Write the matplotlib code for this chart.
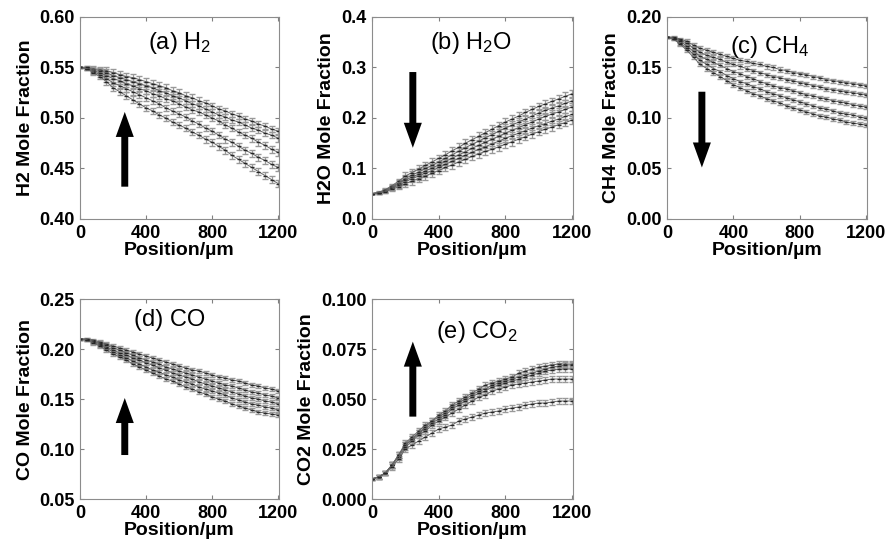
import matplotlib
matplotlib.use("Agg")
import matplotlib.pyplot as plt
from matplotlib.ticker import FormatStrFormatter

plt.rcParams['font.family'] = ['Liberation Sans', 'DejaVu Sans']
plt.rcParams['mathtext.fontset'] = 'custom'
plt.rcParams['mathtext.rm'] = 'Liberation Sans'
plt.rcParams['mathtext.it'] = 'Liberation Sans:italic'
plt.rcParams['mathtext.bf'] = 'Liberation Sans:bold'

# positions, um
pos = list(range(0, 1201, 40))

# (a) H2
h2 = [
    [0.550, 0.550, 0.549, 0.548, 0.547, 0.545, 0.543, 0.541, 0.540, 0.538, 0.536,
     0.534, 0.532, 0.530, 0.527, 0.525, 0.522, 0.520, 0.517, 0.515, 0.512,
     0.509, 0.507, 0.504, 0.502, 0.499, 0.497, 0.494, 0.492, 0.489, 0.487],
    [0.550, 0.550, 0.548, 0.547, 0.545, 0.542, 0.540, 0.538, 0.536, 0.534, 0.532,
     0.530, 0.527, 0.525, 0.522, 0.520, 0.517, 0.514, 0.512, 0.509, 0.506,
     0.503, 0.501, 0.498, 0.496, 0.493, 0.490, 0.488, 0.485, 0.483, 0.480],
    [0.550, 0.549, 0.547, 0.545, 0.542, 0.539, 0.537, 0.534, 0.532, 0.529, 0.527,
     0.524, 0.522, 0.519, 0.517, 0.514, 0.511, 0.508, 0.506, 0.503, 0.500,
     0.497, 0.493, 0.490, 0.486, 0.483, 0.480, 0.476, 0.473, 0.469, 0.466],
    [0.550, 0.549, 0.546, 0.543, 0.539, 0.535, 0.532, 0.529, 0.526, 0.523, 0.520,
     0.517, 0.514, 0.510, 0.507, 0.504, 0.501, 0.497, 0.494, 0.490, 0.487,
     0.483, 0.479, 0.476, 0.472, 0.468, 0.465, 0.461, 0.458, 0.454, 0.451],
    [0.550, 0.549, 0.545, 0.541, 0.536, 0.530, 0.526, 0.522, 0.518, 0.514, 0.510,
     0.507, 0.503, 0.500, 0.496, 0.493, 0.490, 0.486, 0.483, 0.479, 0.476,
     0.472, 0.468, 0.463, 0.459, 0.455, 0.451, 0.447, 0.443, 0.439, 0.435],
]
h2_err = [0.0005, 0.001, 0.002, 0.0025] + [0.0033] * 27

# (b) H2O
h2o = [
    [0.050, 0.053, 0.058, 0.066, 0.075, 0.085, 0.092, 0.099, 0.106, 0.113, 0.120,
     0.127, 0.135, 0.142, 0.150, 0.157, 0.164, 0.171, 0.178, 0.185, 0.192,
     0.198, 0.204, 0.211, 0.217, 0.223, 0.228, 0.233, 0.238, 0.243, 0.248],
    [0.050, 0.052, 0.057, 0.064, 0.072, 0.080, 0.087, 0.093, 0.100, 0.106, 0.113,
     0.120, 0.127, 0.134, 0.141, 0.148, 0.154, 0.161, 0.167, 0.174, 0.180,
     0.186, 0.192, 0.198, 0.204, 0.210, 0.215, 0.220, 0.224, 0.229, 0.234],
    [0.050, 0.052, 0.056, 0.062, 0.070, 0.077, 0.083, 0.089, 0.095, 0.101, 0.107,
     0.114, 0.120, 0.127, 0.133, 0.140, 0.146, 0.152, 0.158, 0.164, 0.170,
     0.176, 0.181, 0.187, 0.192, 0.198, 0.203, 0.208, 0.212, 0.217, 0.222],
    [0.050, 0.052, 0.055, 0.061, 0.067, 0.074, 0.080, 0.085, 0.091, 0.096, 0.102,
     0.108, 0.114, 0.120, 0.126, 0.132, 0.138, 0.143, 0.149, 0.154, 0.160,
     0.165, 0.170, 0.175, 0.180, 0.185, 0.189, 0.194, 0.198, 0.203, 0.207],
    [0.050, 0.051, 0.054, 0.059, 0.064, 0.070, 0.075, 0.080, 0.085, 0.091, 0.096,
     0.102, 0.107, 0.113, 0.118, 0.124, 0.129, 0.134, 0.138, 0.143, 0.148,
     0.153, 0.158, 0.163, 0.168, 0.173, 0.178, 0.182, 0.187, 0.191, 0.196],
]
h2o_err = [0.001, 0.002, 0.003, 0.004, 0.005] + [0.0075] * 26

# (c) CH4
ch4 = [
    [0.180, 0.180, 0.178, 0.176, 0.172, 0.169, 0.167, 0.165, 0.163, 0.161, 0.159,
     0.157, 0.156, 0.154, 0.153, 0.151, 0.150, 0.148, 0.147, 0.145, 0.144,
     0.143, 0.141, 0.140, 0.138, 0.137, 0.136, 0.135, 0.134, 0.133, 0.132],
    [0.180, 0.179, 0.177, 0.174, 0.169, 0.165, 0.162, 0.160, 0.158, 0.155, 0.153,
     0.151, 0.149, 0.147, 0.145, 0.143, 0.141, 0.140, 0.138, 0.137, 0.135,
     0.134, 0.132, 0.131, 0.129, 0.128, 0.127, 0.126, 0.125, 0.124, 0.123],
    [0.180, 0.179, 0.176, 0.171, 0.166, 0.161, 0.158, 0.155, 0.152, 0.149, 0.146,
     0.144, 0.141, 0.139, 0.136, 0.134, 0.132, 0.130, 0.129, 0.127, 0.125,
     0.123, 0.122, 0.120, 0.119, 0.117, 0.116, 0.115, 0.113, 0.112, 0.111],
    [0.180, 0.178, 0.174, 0.169, 0.163, 0.157, 0.153, 0.149, 0.146, 0.142, 0.139,
     0.136, 0.134, 0.131, 0.129, 0.126, 0.124, 0.122, 0.120, 0.118, 0.116,
     0.114, 0.112, 0.110, 0.109, 0.107, 0.105, 0.104, 0.103, 0.101, 0.100],
    [0.180, 0.178, 0.173, 0.167, 0.160, 0.153, 0.149, 0.145, 0.141, 0.137, 0.133,
     0.130, 0.127, 0.124, 0.122, 0.119, 0.117, 0.115, 0.112, 0.110, 0.108,
     0.106, 0.104, 0.102, 0.101, 0.099, 0.098, 0.096, 0.095, 0.094, 0.093],
]
ch4_err = [0.0005, 0.001, 0.0015] + [0.002] * 28

# (d) CO
co = [
    [0.210, 0.210, 0.209, 0.207, 0.205, 0.203, 0.201, 0.199, 0.197, 0.195, 0.193,
     0.191, 0.189, 0.187, 0.185, 0.183, 0.181, 0.179, 0.178, 0.176, 0.174,
     0.172, 0.171, 0.169, 0.168, 0.166, 0.164, 0.163, 0.161, 0.160, 0.158],
    [0.210, 0.210, 0.208, 0.206, 0.204, 0.201, 0.199, 0.196, 0.194, 0.191, 0.189,
     0.187, 0.185, 0.182, 0.180, 0.178, 0.176, 0.174, 0.172, 0.170, 0.168,
     0.166, 0.164, 0.163, 0.161, 0.159, 0.157, 0.156, 0.154, 0.153, 0.151],
    [0.210, 0.209, 0.208, 0.205, 0.202, 0.199, 0.196, 0.194, 0.191, 0.189, 0.186,
     0.184, 0.181, 0.179, 0.176, 0.174, 0.172, 0.170, 0.167, 0.165, 0.163,
     0.161, 0.159, 0.157, 0.155, 0.153, 0.151, 0.150, 0.148, 0.147, 0.145],
    [0.210, 0.209, 0.207, 0.204, 0.201, 0.197, 0.194, 0.191, 0.188, 0.185, 0.182,
     0.179, 0.177, 0.174, 0.172, 0.169, 0.167, 0.165, 0.162, 0.160, 0.158,
     0.156, 0.154, 0.151, 0.149, 0.147, 0.145, 0.144, 0.142, 0.141, 0.139],
    [0.210, 0.209, 0.206, 0.203, 0.199, 0.195, 0.192, 0.189, 0.185, 0.182, 0.179,
     0.176, 0.173, 0.170, 0.168, 0.165, 0.162, 0.160, 0.157, 0.155, 0.152,
     0.150, 0.148, 0.145, 0.143, 0.141, 0.139, 0.137, 0.136, 0.135, 0.134],
]
co_err = [0.0005, 0.001, 0.0015] + [0.002] * 28

# (e) CO2
co2 = [
    [0.010, 0.011, 0.013, 0.017, 0.022, 0.028, 0.031, 0.034, 0.037, 0.039, 0.042,
     0.044, 0.047, 0.049, 0.051, 0.053, 0.055, 0.057, 0.058, 0.059, 0.060,
     0.061, 0.063, 0.064, 0.065, 0.066, 0.0665, 0.067, 0.0675, 0.0675, 0.0675],
    [0.010, 0.011, 0.013, 0.017, 0.022, 0.027, 0.030, 0.033, 0.036, 0.039, 0.041,
     0.043, 0.046, 0.048, 0.050, 0.052, 0.054, 0.055, 0.057, 0.058, 0.059,
     0.060, 0.061, 0.062, 0.063, 0.064, 0.065, 0.066, 0.0665, 0.067, 0.067],
    [0.010, 0.011, 0.013, 0.017, 0.022, 0.027, 0.030, 0.033, 0.035, 0.038, 0.040,
     0.042, 0.045, 0.047, 0.049, 0.051, 0.053, 0.054, 0.056, 0.057, 0.058,
     0.059, 0.060, 0.061, 0.062, 0.063, 0.064, 0.0645, 0.065, 0.065, 0.065],
    [0.010, 0.011, 0.013, 0.017, 0.021, 0.026, 0.029, 0.032, 0.034, 0.037, 0.039,
     0.041, 0.043, 0.045, 0.047, 0.049, 0.051, 0.052, 0.054, 0.055, 0.056,
     0.057, 0.0575, 0.058, 0.0585, 0.059, 0.0595, 0.060, 0.060, 0.060, 0.060],
    [0.010, 0.011, 0.013, 0.016, 0.020, 0.025, 0.027, 0.029, 0.031, 0.033, 0.035,
     0.036, 0.037, 0.039, 0.040, 0.041, 0.042, 0.043, 0.0435, 0.044, 0.045,
     0.0455, 0.046, 0.047, 0.0475, 0.048, 0.048, 0.0485, 0.049, 0.049, 0.049],
]
co2_err = [0.0005, 0.001, 0.0012] + [0.0015] * 28

panels = [
    # rect, data, err, ylim, yticks, fmt, title, title pos, ylabel, arrow (x, tail, tip)
    ([0.0904, 0.5967, 0.2249, 0.372], h2, h2_err, (0.40, 0.60), [0.40, 0.45, 0.50, 0.55, 0.60], '%.2f',
     '(a) H$_2$', (0.50, 0.87), 'H2 Mole Fraction', (271, 0.432, 0.506)),
    ([0.4203, 0.5967, 0.2271, 0.372], h2o, h2o_err, (0.0, 0.4), [0.0, 0.1, 0.2, 0.3, 0.4], '%.1f',
     '(b) H$_2$O', (0.49, 0.87), 'H2O Mole Fraction', (245, 0.291, 0.141)),
    ([0.7537, 0.5967, 0.2260, 0.372], ch4, ch4_err, (0.0, 0.20), [0.00, 0.05, 0.10, 0.15, 0.20], '%.2f',
     '(c) CH$_4$', (0.515, 0.85), 'CH4 Mole Fraction', (210, 0.126, 0.051)),
    ([0.0904, 0.0810, 0.2249, 0.3683], co, co_err, (0.05, 0.25), [0.05, 0.10, 0.15, 0.20, 0.25], '%.2f',
     '(d) CO', (0.45, 0.895), 'CO Mole Fraction', (271, 0.094, 0.151)),
    ([0.4203, 0.0810, 0.2271, 0.3683], co2, co2_err, (0.0, 0.1), [0.000, 0.025, 0.050, 0.075, 0.100], '%.3f',
     '(e) CO$_2$', (0.52, 0.835), 'CO2 Mole Fraction', (245, 0.0412, 0.0787)),
]

fig = plt.figure(figsize=(8.85, 5.43), dpi=100)

for rect, data, err, ylim, yticks, fmt, title, tpos, ylabel, arr in panels:
    ax = fig.add_axes(rect)
    for series in data:
        ax.errorbar(pos, series, yerr=err, fmt='-', color='0.4', lw=0.7,
                    ecolor='0.6', elinewidth=0.9, capsize=2, capthick=0.9,
                    marker='_', ms=2.5, mec='0.15', mew=1.0)
    ax.set_xlim(0, 1205)
    ax.set_ylim(*ylim)
    ax.set_xticks([0, 400, 800, 1200])
    ax.set_yticks(yticks)
    ax.yaxis.set_major_formatter(FormatStrFormatter(fmt))
    ax.tick_params(direction='in', length=3, top=True, right=True, color='0.5', pad=4)
    for lab in ax.get_xticklabels() + ax.get_yticklabels():
        lab.set_fontweight('bold')
        lab.set_fontsize(13)
    for sp in ax.spines.values():
        sp.set_color('0.55')
        sp.set_linewidth(0.8)
    ax.set_xlabel('Position/µm', fontsize=14, fontweight='bold', labelpad=0)
    ax.set_ylabel(ylabel, fontsize=14, fontweight='bold', labelpad=4)
    ax.text(tpos[0], tpos[1], title, transform=ax.transAxes, ha='center', va='center', fontsize=17)
    ax.annotate('', xy=(arr[0], arr[2]), xytext=(arr[0], arr[1]),
                arrowprops=dict(arrowstyle='simple,head_length=1.8,head_width=1.3,tail_width=0.5',
                                fc='k', ec='none', mutation_scale=10, shrinkA=0, shrinkB=0))

fig.savefig('out.png', dpi=100)
